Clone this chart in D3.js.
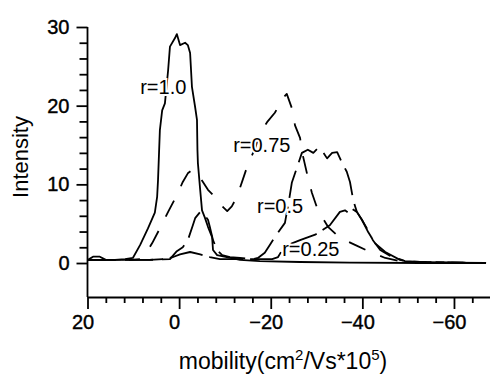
<!DOCTYPE html>
<html lang="en">

<head>
  <meta charset="UTF-8">
  <title>mobility spectra</title>
  <style>
    body { margin: 0; background: #fff; }
    text { font-family: "Liberation Sans", Arial, sans-serif; fill: #000; }
  </style>
</head>

<body>

  <script src="https://cdn.jsdelivr.net/npm/d3@7/dist/d3.min.js"></script>
  <script>

    // r = 1.0
    let mob10 = [19.9, 18.8, 17.3, 16.0, 14.0, 11.8, 10.1, 8.5, 6.8, 5.3, 4.8, 4.6, 4.2, 3.7, 3.1, 2.4, 2.0, 0.9, 0.5, -0.2,
      -1.3, -1.9, -2.4, -2.8, -3.5, -3.9, -4.0, -4.1, -4.6, -5.0, -5.6, -6.3, -7.2, -7.4, -8.3, -10.4, -13.3, -17.6, -26.4, -37.3, -52.6, -67.0]
    let int10 = [0.4, 0.8, 0.8, 0.4, 0.4, 0.5, 0.64, 2.3, 4.4, 6.4, 8.4, 10.6, 16.9, 19.4, 20.3, 24.5, 27.5, 28.6, 29.1, 27.7,
      28.0, 27.7, 26.7, 22.4, 19.8, 18.2, 14.4, 12.7, 9.3, 6.7, 5.8, 4.6, 3.3, 1.65, 1.0, 0.76, 0.4, 0.25, 0.13, 0.06, 0.0, 0.0]

    // r = 0.75
    let mob075 = [19.9, 15.1, 10.7, 8.5, 6.8, 5.9, 4.2, 2.4, 0.5, -0.8, -1.9, -2.8, -3.9, -5.2, -6.3, -8.5, -9.6, -10.5, -11.5, -12.6,
      -13.9, -15.0, -16.6, -17.6, -19.2, -20.9, -22.7, -23.5, -24.6, -25.3, -26.4, -27.0, -28.1, -29.0, -30.3, -32.5, -35.1, -38.4, -41.7, -45.0,
      -48.2, -52.6, -67.0]
    let int075 = [0.4, 0.4, 0.4, 0.5, 1.65, 2.5, 4.4, 6.5, 8.6, 10.3, 11.4, 11.8, 11.4, 10.3, 9.3, 8.0, 7.1, 6.6, 7.2, 8.4,
      10.6, 12.5, 14.6, 16.5, 17.9, 19.1, 21.0, 21.5, 19.7, 17.5, 15.9, 13.7, 10.9, 8.9, 6.7, 4.6, 3.2, 2.3, 1.4, 0.64,
      0.25, 0.13, 0.0]

    // r = 0.5
    let mob05 = [19.9, 12.9, 6.4, 2.0, 0.5, -0.8, -1.9, -3.0, -3.5, -4.6, -5.4, -6.3, -6.7, -7.4, -8.3, -9.4, -11.1, -13.3, -16.1, -17.2,
      -18.7, -19.8, -20.9, -23.1, -24.0, -24.6, -25.7, -26.8, -28.1, -29.3, -30.3, -31.4, -32.3, -33.4, -34.5, -35.6, -36.6, -37.3, -38.0, -38.8,
      -39.9, -41.0, -42.3, -43.9, -46.1, -49.3, -52.6, -67.0]
    let int05 = [0.4, 0.4, 0.4, 0.5, 1.5, 2.0, 2.9, 4.8, 5.7, 6.5, 6.2, 5.5, 4.6, 2.9, 1.65, 1.0, 0.76, 0.64, 0.5, 0.64,
      1.3, 2.3, 3.3, 5.1, 8.0, 10.2, 12.1, 14.0, 14.4, 14.0, 14.6, 14.1, 13.3, 14.0, 14.1, 12.7, 11.6, 10.3, 8.0, 6.5,
      5.5, 4.4, 2.9, 1.65, 0.9, 0.25, 0.13, 0.0]

    // r = 0.25
    let mob025 = [19.9, 12.9, 6.4, 3.1, 1.3, -0.2, -2.4, -4.6, -6.7, -8.9, -13.3, -20.3, -21.6, -22.5, -23.8, -26.4, -29.7, -32.9, -35.1, -36.2,
      -36.9, -37.7, -38.8, -39.9, -41.3, -42.8, -45.0, -48.2, -50.4, -67.0]
    let int025 = [0.4, 0.4, 0.4, 0.5, 0.76, 1.1, 1.4, 1.1, 0.76, 0.5, 0.5, 0.5, 0.76, 1.65, 2.3, 2.9, 3.6, 4.8, 6.5, 6.7,
      6.4, 6.9, 6.5, 5.5, 3.9, 2.5, 1.4, 0.4, 0.13, 0.0]

    let names = ['r=1.0', 'r=0.75', 'r=0.5', 'r=0.25']
    // where each label sits, in data units (mobility, intensity)
    let labelMob = [8.5, -11.8, -17.0, -22.5]
    let labelInt = [21.5, 14.1, 6.4, 0.9]

    let xTicks = [20, 0, -20, -40, -60]
    let yTicks = [0, 10, 20, 30]

    let width = 490
    let height = 374

    let x = d3.scaleLinear().domain([20, -67.8]).range([87.5, 489.7])
    let y = d3.scaleLinear().domain([-4.32, 30]).range([297, 27])

    let series = [
      { name: names[0], mob: mob10, val: int10, dash: null },
      { name: names[1], mob: mob075, val: int075, dash: '18,16' },
      { name: names[2], mob: mob05, val: int05, dash: '28,9' },
      { name: names[3], mob: mob025, val: int025, dash: '34,7' }
    ]

    let svg = d3.select('body')
      .append('svg')
      .attr('width', width)
      .attr('height', height)

    let line = d3.line()
      .x(d => x(d[0]))
      .y(d => y(d[1]))

    svg.selectAll('path.curve')
      .data(series)
      .enter()
      .append('path')
      .attr('class', 'curve')
      .attr('d', s => line(d3.zip(s.mob, s.val)))
      .attr('fill', 'none')
      .attr('stroke', '#000')
      .attr('stroke-width', 1.8)
      .attr('stroke-linejoin', 'round')
      .attr('stroke-dasharray', s => s.dash)

    // y axis: majors every 10, minors every 2
    let yMinor = d3.range(0, 30.1, 2).filter(v => v % 10 !== 0)
    svg.append('g')
      .attr('transform', 'translate(' + x(20) + ',0)')
      .call(d3.axisLeft(y).tickValues(yMinor).tickSize(8).tickFormat(''))
      .call(g => g.select('.domain').remove())
    let yAxis = svg.append('g')
      .attr('transform', 'translate(' + x(20) + ',0)')
      .call(d3.axisLeft(y).tickValues(yTicks).tickSize(11).tickPadding(7).tickSizeOuter(0))
    yAxis.select('.domain').attr('d', 'M0,' + y(30) + 'V' + y.range()[0])

    // x axis: majors every 20, minors every 4
    let xMinor = d3.range(20, -68, -4).filter(v => v % 20 !== 0)
    svg.append('g')
      .attr('transform', 'translate(0,' + y.range()[0] + ')')
      .call(d3.axisBottom(x).tickValues(xMinor).tickSize(6).tickFormat(''))
      .call(g => g.select('.domain').remove())
    svg.append('g')
      .attr('transform', 'translate(0,' + y.range()[0] + ')')
      .call(d3.axisBottom(x).tickValues(xTicks).tickSize(12).tickPadding(6).tickSizeOuter(0))
      .selectAll('text').attr('dx', -5)

    svg.selectAll('.tick line, .domain')
      .attr('stroke', '#000')
      .attr('stroke-width', 1.8)
    svg.selectAll('.tick text')
      .attr('font-size', 20)
      .attr('font-family', '"Liberation Sans", Arial, sans-serif')
      .attr('stroke', '#000')
      .attr('stroke-width', 0.4)

    // curve labels, with a white halo like the original
    svg.selectAll('text.lab')
      .data(names)
      .enter()
      .append('text')
      .attr('class', 'lab')
      .attr('x', (d, i) => x(labelMob[i]))
      .attr('y', (d, i) => y(labelInt[i]))
      .attr('font-size', 20)
      .attr('stroke', '#fff')
      .attr('stroke-width', 4)
      .attr('paint-order', 'stroke')
      .text(d => d)

    // axis titles
    svg.append('text')
      .attr('transform', 'translate(28,157) rotate(-90)')
      .attr('text-anchor', 'middle')
      .attr('font-size', 22)
      .text('Intensity')

    let title = svg.append('text')
      .attr('x', 283)
      .attr('y', 369)
      .attr('text-anchor', 'middle')
      .attr('font-size', 23)
    title.append('tspan').text('mobility(cm')
    title.append('tspan').attr('font-size', 15).attr('dy', -9).text('2')
    title.append('tspan').attr('dy', 9).text('/Vs*10')
    title.append('tspan').attr('font-size', 15).attr('dy', -9).text('5')
    title.append('tspan').attr('dy', 9).text(')')
  </script>
</body>

</html>
